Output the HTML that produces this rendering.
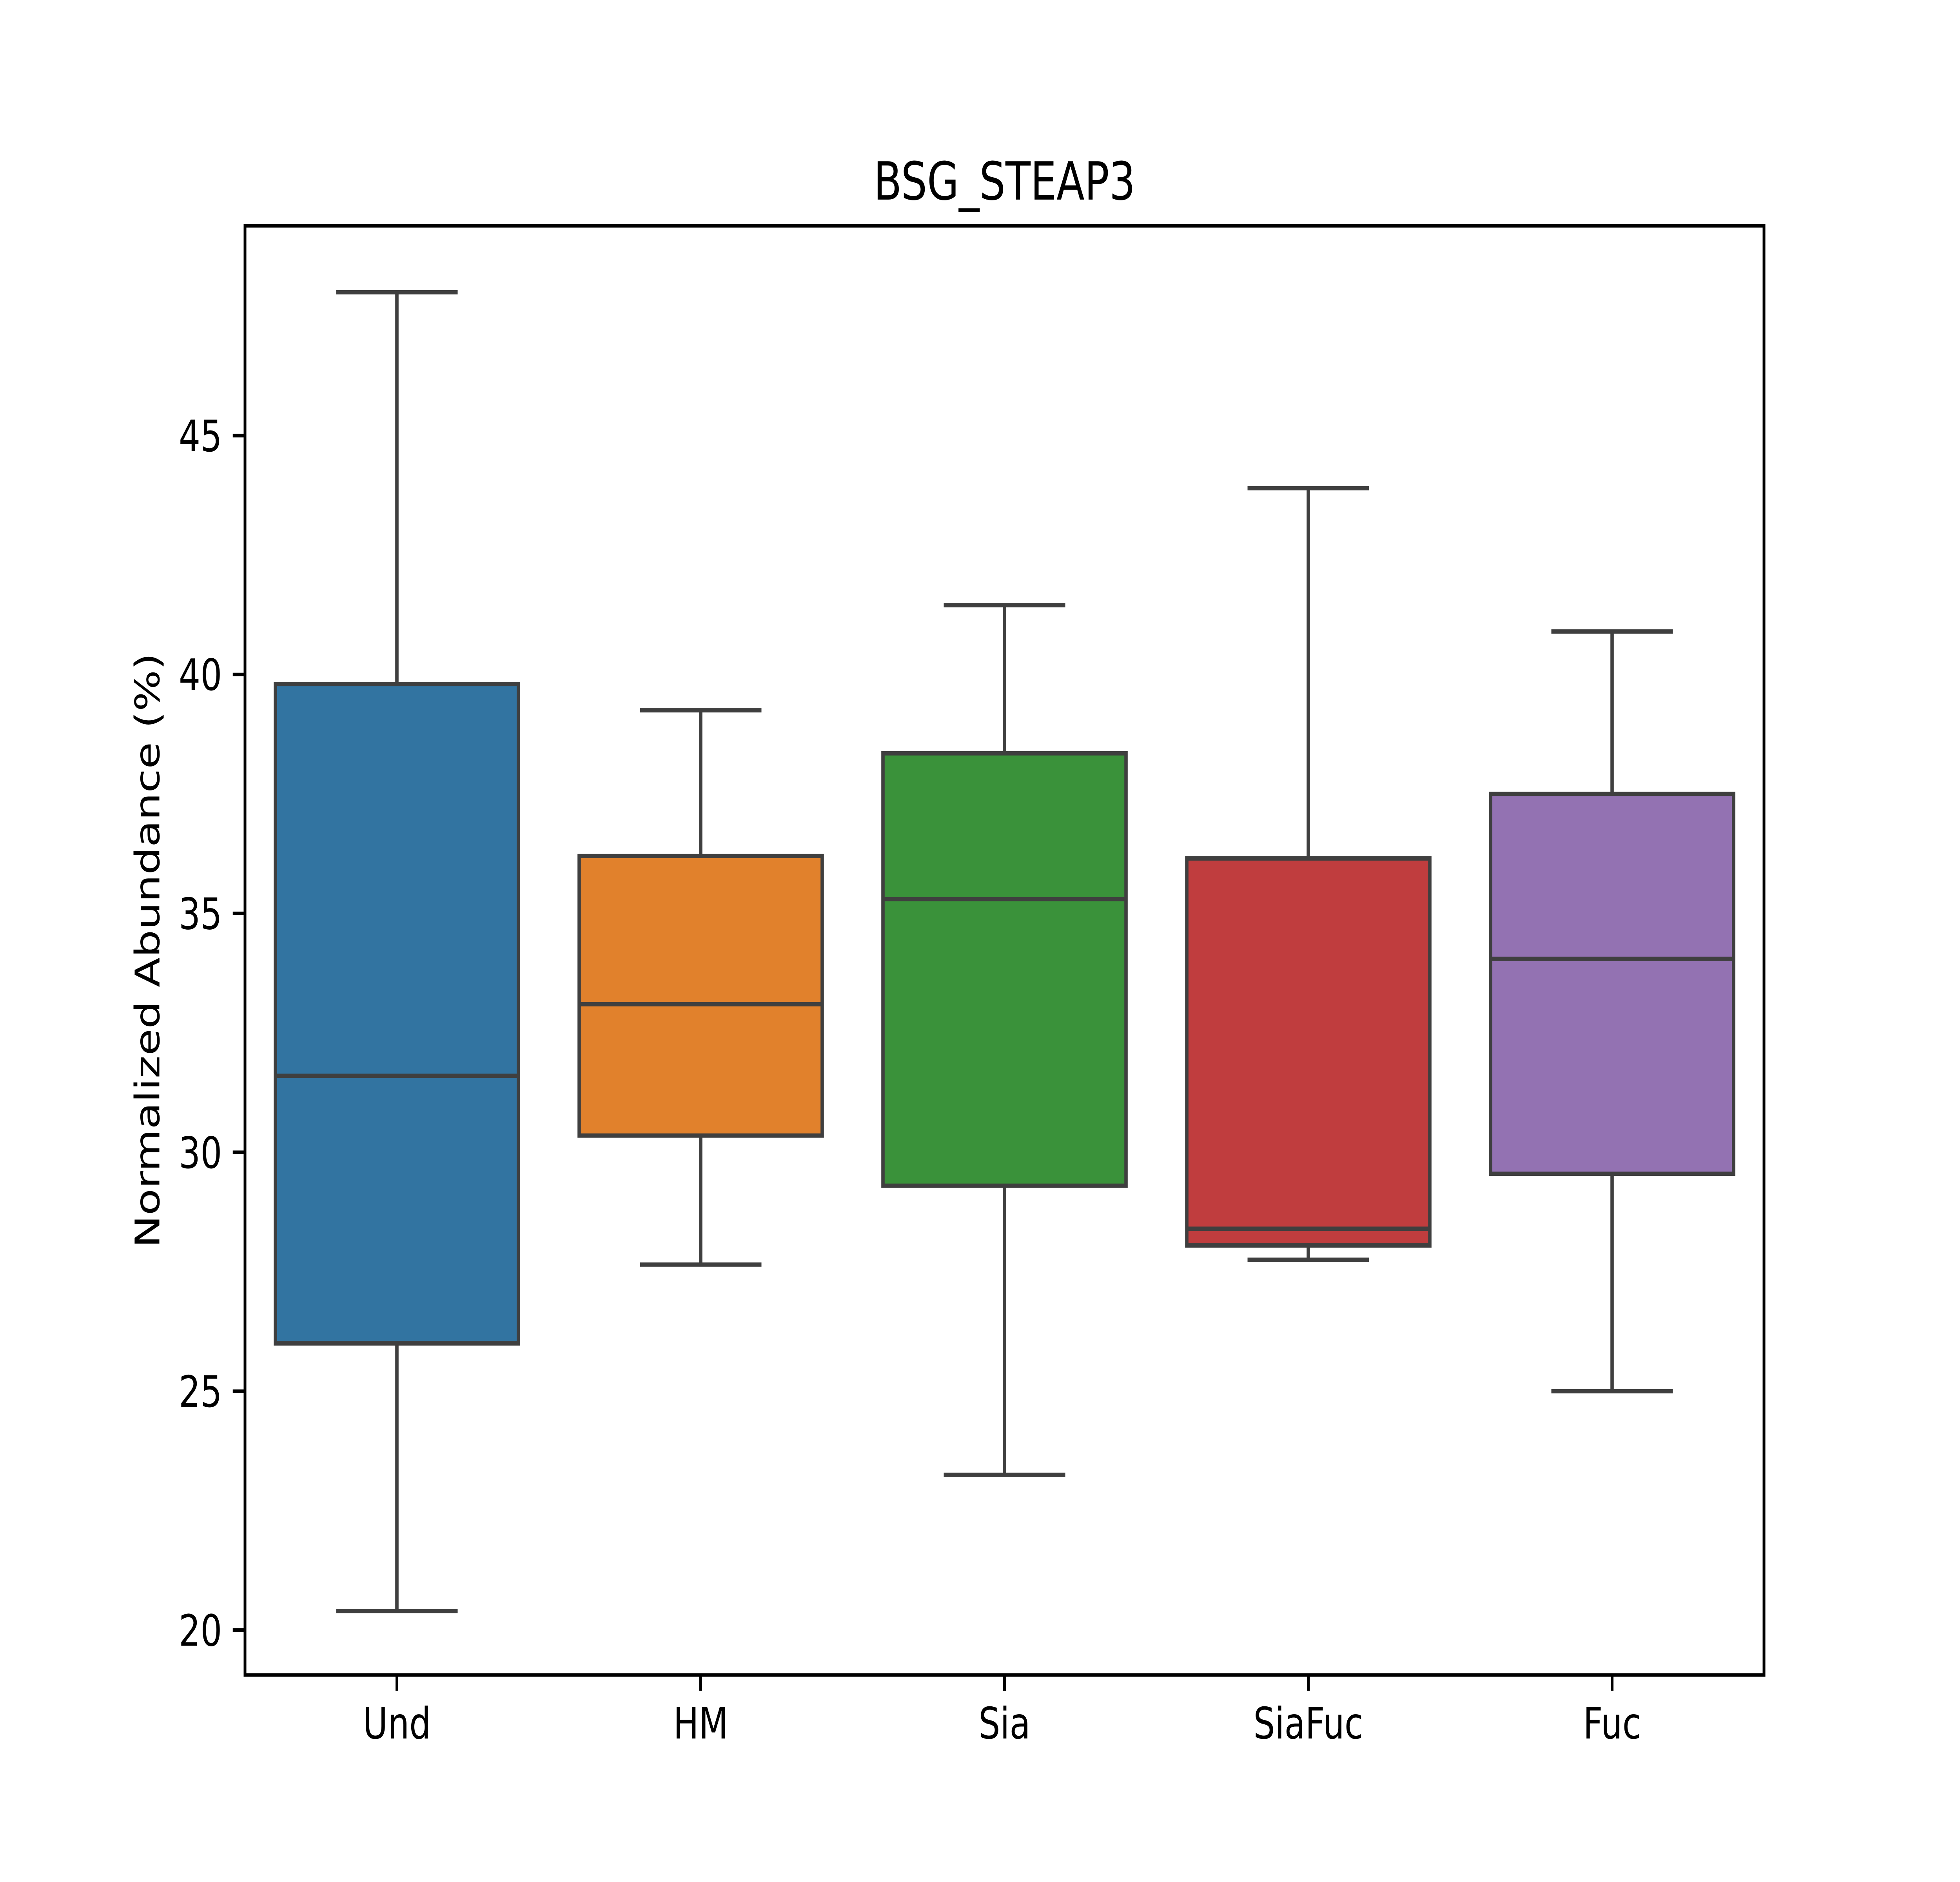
<!DOCTYPE html>
<html><head><meta charset="utf-8"><style>
html,body{margin:0;padding:0;background:#fff;overflow:hidden;width:100%;height:100%}
svg{display:block;width:100vw;height:100vh}
text{font-family:"DejaVu Sans","Liberation Sans",sans-serif;fill:#000}
</style></head><body>
<svg id="chart" viewBox="0 0 6400 4800" preserveAspectRatio="none" xmlns="http://www.w3.org/2000/svg">
<rect x="0" y="0" width="6400" height="4800" fill="#fff"/>
<text x="3280" y="509" font-size="134" text-anchor="middle">BSG_STEAP3</text>
<g id="plot"></g>
<text transform="translate(520,2424) rotate(-90)" font-size="111" text-anchor="middle">Normalized Abundance (%)</text>
<rect x="800" y="576" width="4960" height="3696" fill="none" stroke="#000" stroke-width="9"/>
</svg>
<script>
const categories = ["Und","HM","Sia","SiaFuc","Fuc"];
const whiskLow = [20.4, 27.65, 23.25, 27.75, 25.0];
const q1Vals   = [26.0, 30.35, 29.3, 28.05, 29.55];
const medians  = [31.6, 33.1, 35.3, 28.4, 34.05];
const q3Vals   = [39.8, 36.2, 38.35, 36.15, 37.5];
const whiskHigh= [48.0, 39.25, 41.45, 43.9, 40.9];
const colors = ["#3274a1","#e1812c","#3a923a","#c03d3e","#9372b2"];
const yTicks = [20,25,30,35,40,45];

const L=800,R=5760,T=576,B=4272, yMin=19.06, yMax=49.39;
const ns="http://www.w3.org/2000/svg";
function xs(i){return L+(i+0.5)*(R-L)/categories.length;}
function ys(v){return B-(v-yMin)/(yMax-yMin)*(B-T);}
const band=(R-L)/categories.length;
const plot=document.getElementById('plot');
const svg=document.getElementById('chart');
function mk(tag,attrs,parent){const e=document.createElementNS(ns,tag);for(const k in attrs)e.setAttribute(k,attrs[k]);(parent||plot).appendChild(e);return e;}
const lc="#3f3f3f", lw=11;
categories.forEach((c,i)=>{
  const cx=xs(i), bw=band*0.8, cw=band*0.4;
  const g=mk('g',{});
  
  
  const w1=mk('line',{x1:cx,x2:cx,y1:ys(whiskLow[i]),y2:ys(q1Vals[i]),stroke:lc,'stroke-width':lw},g);
  
  
  const w2=mk('line',{x1:cx,x2:cx,y1:ys(q3Vals[i]),y2:ys(whiskHigh[i]),stroke:lc,'stroke-width':lw},g);
  
  
  const c1=mk('line',{x1:cx-cw/2,x2:cx+cw/2,y1:ys(whiskLow[i]),y2:ys(whiskLow[i]),stroke:lc,'stroke-width':lw},g);
  
  
  const c2=mk('line',{x1:cx-cw/2,x2:cx+cw/2,y1:ys(whiskHigh[i]),y2:ys(whiskHigh[i]),stroke:lc,'stroke-width':lw},g);
  
  
  const b=mk('rect',{x:cx-bw/2,y:ys(q3Vals[i]),width:bw,height:ys(q1Vals[i])-ys(q3Vals[i]),fill:colors[i],stroke:lc,'stroke-width':lw},g);
  
  
  const m=mk('line',{x1:cx-bw/2,x2:cx+bw/2,y1:ys(medians[i]),y2:ys(medians[i]),stroke:lc,'stroke-width':lw},g);
  
  
  const t=mk('line',{x1:cx,x2:cx,y1:B,y2:B+40,stroke:'#000','stroke-width':9},svg);
  
  
  const lb=mk('text',{x:cx,y:4434,'font-size':111,'text-anchor':'middle'},svg);
  lb.textContent=c;
  
  
});
yTicks.forEach(v=>{
  const y=ys(v);
  const t=mk('line',{x1:L-40,x2:L,y1:y,y2:y,stroke:'#000','stroke-width':9},svg);
  
  
  const lb=mk('text',{x:L-75,y:y+40,'font-size':111,'text-anchor':'end'},svg);
  lb.textContent=String(v);
  
  
});
</script>
</body></html>
